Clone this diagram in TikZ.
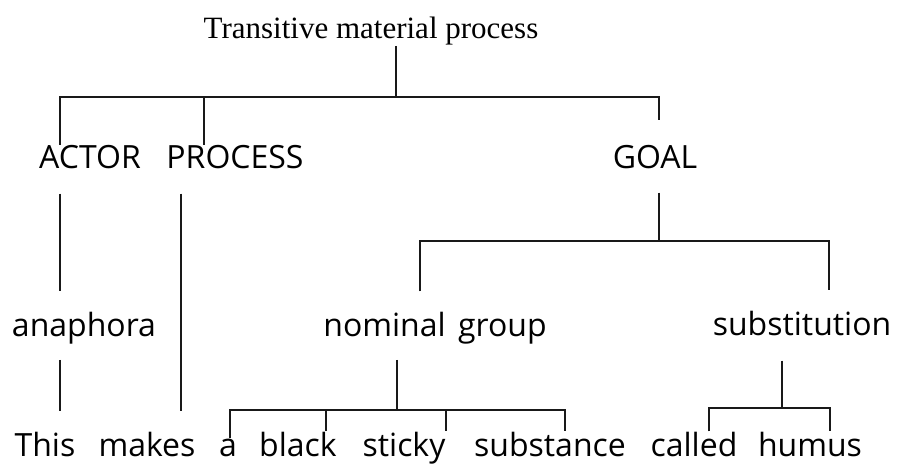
\documentclass[tikz,border=0pt]{standalone}
\usepackage{fontspec}
\usepackage{tikz}
\usetikzlibrary{calc}
\setmainfont{Liberation Serif}
\setsansfont{Open Sans}
\tikzset{
  heading/.style={font=\rmfamily\fontsize{31}{37}\selectfont, inner sep=1pt, anchor=base},
  cat/.style={font=\sffamily\fontsize{32}{38}\selectfont, inner sep=0pt, anchor=base},
  word/.style={font=\sffamily\fontsize{32}{38}\selectfont, inner sep=0pt, anchor=base},
  link/.style={line width=2.2pt, draw=black!90}
}
\begin{document}
\begin{tikzpicture}[x=1pt, y=-1pt]
\useasboundingbox (0,0) rectangle (897,464);
\node[heading] (title) at (371,38) {Transitive material process};
\node[cat] (actor) at (90,168) {ACTOR};
\node[cat] (process) at (235,168) {PROCESS};
\node[cat] (goal) at (655,168) {GOAL};
\node[cat] (anaphora) at (84,336) {anaphora};
\node[cat] (nominal) at (435,336) {nominal\hspace{4pt} group};
\node[cat] (substitution) at (802,335) {substitution};
\node[word] (w-this) at (45,456) {This};
\node[word] (w-makes) at (147,456) {makes};
\node[word] (w-a) at (228,456) {a};
\node[word] (w-black) at (298,456) {black};
\node[word] (w-sticky) at (404,456) {sticky};
\node[word] (w-substance) at (550,456) {substance};
\node[word] (w-called) at (694,456) {called};
\node[word] (w-humus) at (810,456) {humus};
% joints of the bars
\coordinate (tb-top) at (396,97);
\coordinate (tb-actor) at (60,97);
\coordinate (tb-process) at (204,97);
\coordinate (tb-goal) at (659,97);
\coordinate (pr-down) at (181,193);
\coordinate (gb-top) at (659,241);
\coordinate (gb-left) at (420,241);
\coordinate (gb-right) at (829,241);
\coordinate (ng-top) at (397,410);
\coordinate (ng-a) at (230,410);
\coordinate (ng-black) at (326,410);
\coordinate (ng-sticky) at (446,410);
\coordinate (ng-subst) at (565,410);
\coordinate (sb-top) at (782,408);
\coordinate (sb-called) at (709,408);
\coordinate (sb-humus) at (830,408);
% clause
\draw[link] (tb-top |- title.south) -- (tb-top);
\draw[link, shorten >=25pt] (tb-actor |- actor.north) -- (tb-actor) -- (tb-goal) -- (tb-goal |- goal.north);
\draw[link] (tb-process) -- (tb-process |- process.north);
\draw[link, shorten <=25pt, shorten >=20pt] (actor.south -| tb-actor) -- (anaphora.north -| tb-actor);
\draw[link, shorten <=16pt, shorten >=20pt] (anaphora.south -| tb-actor) -- (w-this.north -| tb-actor);
\draw[link, shorten <=25pt, shorten >=20pt] (process.south -| pr-down) -- (w-makes.north -| pr-down);
% goal
\draw[link, shorten <=24pt] (gb-top |- goal.south) -- (gb-top);
\draw[link, shorten <=20pt, shorten >=20pt] (gb-left |- nominal.north) -- (gb-left) -- (gb-right) -- (gb-right |- substitution.north);
\draw[link, shorten <=16pt] (ng-top |- nominal.south) -- (ng-top);
\draw[link] (ng-a |- w-a.north) -- (ng-a) -- (ng-subst) -- (ng-subst |- w-substance.north);
\draw[link] (ng-black) -- (ng-black |- w-black.north);
\draw[link] (ng-sticky) -- (ng-sticky |- w-sticky.north);
\draw[link, shorten <=25pt] (sb-top |- substitution.south) -- (sb-top);
\draw[link] (sb-called |- w-called.north) -- (sb-called) -- (sb-humus) -- (sb-humus |- w-humus.north);
\end{tikzpicture}
\end{document}
